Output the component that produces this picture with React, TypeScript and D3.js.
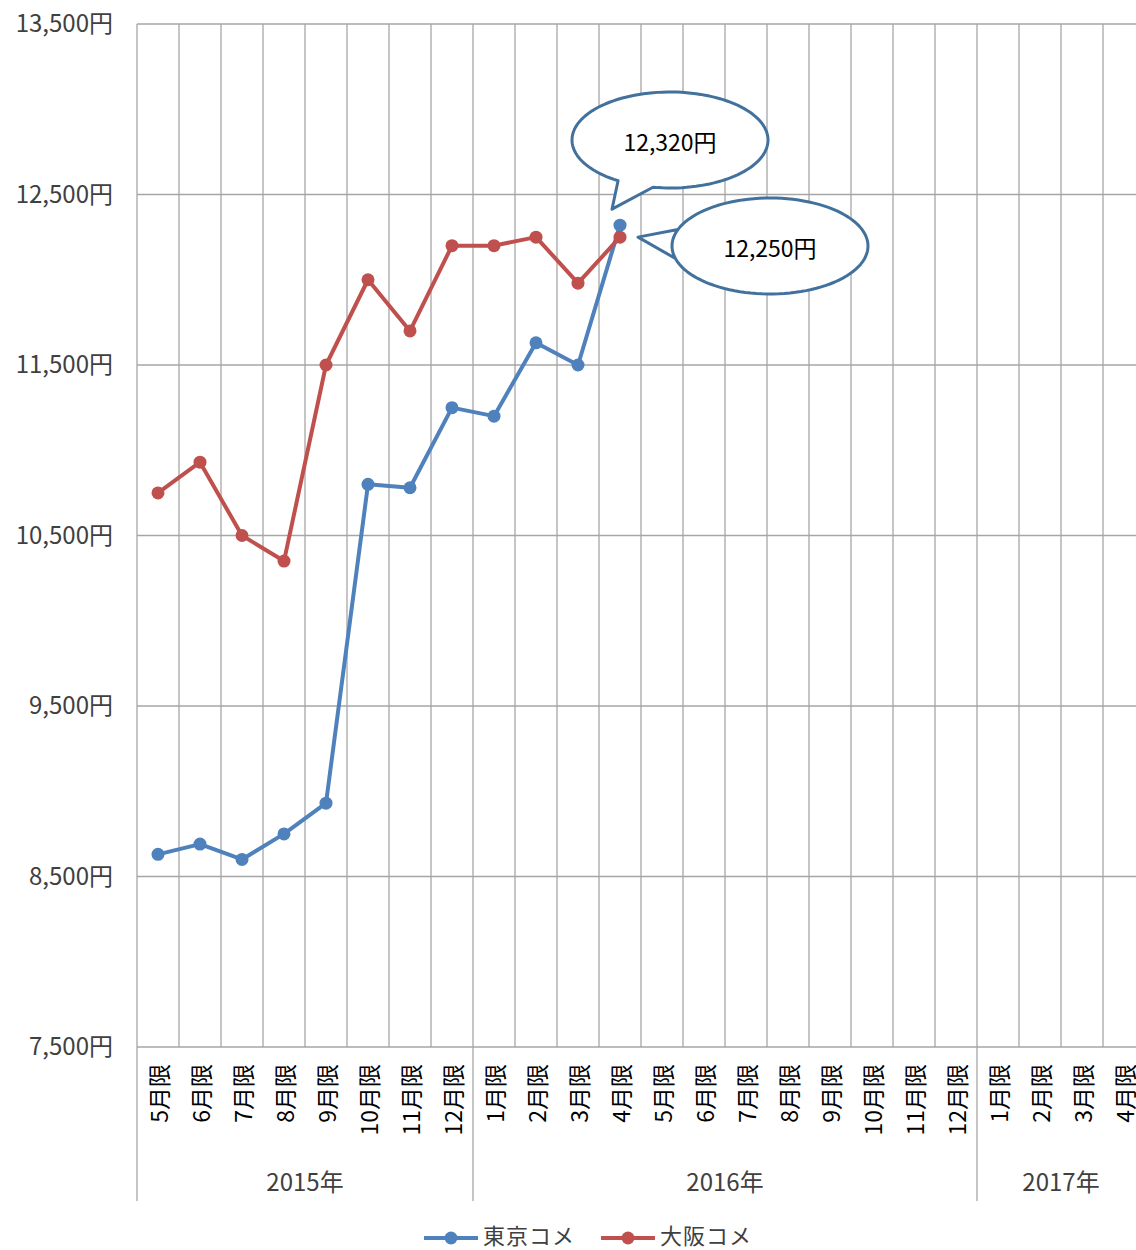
import React, { useEffect, useRef } from 'react'
import * as d3 from 'd3'

const months = [
  '5月限', '6月限', '7月限', '8月限', '9月限', '10月限', '11月限', '12月限',
  '1月限', '2月限', '3月限', '4月限', '5月限', '6月限', '7月限', '8月限',
  '9月限', '10月限', '11月限', '12月限', '1月限', '2月限', '3月限', '4月限',
]
const years = [
  { label: '2015年', from: 0, to: 8 },
  { label: '2016年', from: 8, to: 20 },
  { label: '2017年', from: 20, to: 24 },
]
const tokyo = [8630, 8690, 8600, 8750, 8930, 10800, 10780, 11250, 11200, 11630, 11500, 12320]
const osaka = [10750, 10930, 10500, 10350, 11500, 12000, 11700, 12200, 12200, 12250, 11980, 12250]
const yTicks = [7500, 8500, 9500, 10500, 11500, 12500, 13500]
const seriesNames = ['東京コメ', '大阪コメ']
const colors = ['#4f81bd', '#c0504d']

const FONT = '"Noto Sans CJK JP", "Noto Sans", sans-serif'

const App = () => {
  const ref = useRef<SVGSVGElement>(null)

  useEffect(() => {
    draw()
  })

  const draw = () => {
    const left = 137
    const top = 24
    const bottom = 1047
    const band = 42
    const svg = d3.select(ref.current)
    svg.selectAll('*').remove()

    const x = d3.scaleBand<number>().domain(d3.range(months.length)).range([left, left + band * months.length])
    const y = d3.scaleLinear().domain([7500, 13500]).range([bottom, top])
    const grid = '#a6a6a6'

    // horizontal grid
    svg.append('g')
      .selectAll('line')
      .data(yTicks)
      .enter()
      .append('line')
      .attr('x1', left)
      .attr('x2', 1136)
      .attr('y1', (d) => y(d))
      .attr('y2', (d) => y(d))
      .attr('stroke', grid)
      .attr('stroke-width', 1.3)

    // vertical grid
    svg.append('g')
      .selectAll('line')
      .data(d3.range(months.length + 1))
      .enter()
      .append('line')
      .attr('x1', (d) => left + d * band)
      .attr('x2', (d) => left + d * band)
      .attr('y1', top)
      .attr('y2', bottom)
      .attr('stroke', grid)
      .attr('stroke-width', 1.3)

    // group separators
    svg.append('g')
      .selectAll('line')
      .data(years)
      .enter()
      .append('line')
      .attr('x1', (d) => x(d.from)!)
      .attr('x2', (d) => x(d.from)!)
      .attr('y1', bottom)
      .attr('y2', 1201)
      .attr('stroke', grid)
      .attr('stroke-width', 1.3)

    // y labels
    svg.append('g')
      .selectAll('text')
      .data(yTicks)
      .enter()
      .append('text')
      .attr('x', 113)
      .attr('y', (d) => y(d))
      .attr('dy', '0.35em')
      .attr('text-anchor', 'end')
      .attr('font-family', FONT)
      .attr('font-size', 24)
      .attr('fill', '#404040')
      .text((d) => d3.format(',')(d) + '円')

    // x labels
    svg.append('g')
      .selectAll('text')
      .data(months)
      .enter()
      .append('text')
      .attr('transform', (d, i) => `translate(${x(i)! + band / 2},1064) rotate(-90)`)
      .attr('text-anchor', 'end')
      .attr('dominant-baseline', 'central')
      .attr('font-family', FONT)
      .attr('font-size', 23)
      .attr('fill', '#000')
      .text((d) => d)

    // year labels
    svg.append('g')
      .selectAll('text')
      .data(years)
      .enter()
      .append('text')
      .attr('x', (d) => (x(d.from)! + x(d.to - 1)! + band) / 2)
      .attr('y', 1183)
      .attr('dy', '0.35em')
      .attr('text-anchor', 'middle')
      .attr('font-family', FONT)
      .attr('font-size', 24)
      .attr('fill', '#404040')
      .text((d) => d.label)

    // series
    const line = d3.line<number>()
      .x((d, i) => x(i)! + band / 2)
      .y((d) => y(d))
    ;[tokyo, osaka].forEach((data, k) => {
      svg.append('path')
        .datum(data)
        .attr('d', line)
        .attr('fill', 'none')
        .attr('stroke', colors[k])
        .attr('stroke-width', 4)
        .attr('stroke-linejoin', 'round')
      svg.append('g')
        .selectAll('circle')
        .data(data)
        .enter()
        .append('circle')
        .attr('cx', (d, i) => x(i)! + band / 2)
        .attr('cy', (d) => y(d))
        .attr('r', 6.5)
        .attr('fill', colors[k])
    })

    // callouts
    const callout = (cx: number, cy: number, rx: number, ry: number, tip: [number, number], a0: number, a1: number, label: string) => {
      const pts: [number, number][] = []
      const steps = 120
      const start = a1
      const end = a0 + Math.PI * 2
      for (let s = 0; s <= steps; s++) {
        const t = start + ((end - start) * s) / steps
        pts.push([cx + rx * Math.cos(t), cy + ry * Math.sin(t)])
      }
      pts.push(tip)
      svg.append('path')
        .attr('d', d3.line()(pts) + 'Z')
        .attr('fill', '#fff')
        .attr('stroke', '#41719c')
        .attr('stroke-width', 3)
        .attr('stroke-linejoin', 'round')
      svg.append('text')
        .attr('x', cx)
        .attr('y', cy + 3)
        .attr('dy', '0.35em')
        .attr('text-anchor', 'middle')
        .attr('font-family', FONT)
        .attr('font-size', 23)
        .attr('fill', '#000')
        .text(label)
    }
    const deg = Math.PI / 180
    // upper callout: tail towards lower-left
    callout(670, 140, 98, 48, [x(11)! + band / 2 - 8, y(tokyo[11]) - 16], 100 * deg, 122 * deg, d3.format(',')(tokyo[11]) + '円')
    // lower callout: tail towards left
    callout(770, 246, 98, 48, [x(11)! + band / 2 + 18, y(osaka[11])], 200 * deg, 165 * deg, d3.format(',')(osaka[11]) + '円')

    // legend
    const lg = svg.append('g')
    const ly = 1236
    const items = [
      { x: 424, name: seriesNames[0], c: colors[0] },
      { x: 601, name: seriesNames[1], c: colors[1] },
    ]
    items.forEach((it) => {
      lg.append('line')
        .attr('x1', it.x)
        .attr('x2', it.x + 54)
        .attr('y1', ly + 2)
        .attr('y2', ly + 2)
        .attr('stroke', it.c)
        .attr('stroke-width', 4)
      lg.append('circle')
        .attr('cx', it.x + 27)
        .attr('cy', ly + 2)
        .attr('r', 6.5)
        .attr('fill', it.c)
      lg.append('text')
        .attr('x', it.x + 59)
        .attr('y', ly)
        .attr('dy', '0.35em')
        .attr('font-family', FONT)
        .attr('font-size', 22)
        .attr('fill', '#404040')
        .attr('letter-spacing', 1)
        .text(it.name)
    })
  }

  return (
    <svg
      ref={ref}
      width={1136}
      height={1250}
      style={{ position: 'absolute', left: 0, top: 0, background: '#fff' }}
    />
  )
}

export default App
